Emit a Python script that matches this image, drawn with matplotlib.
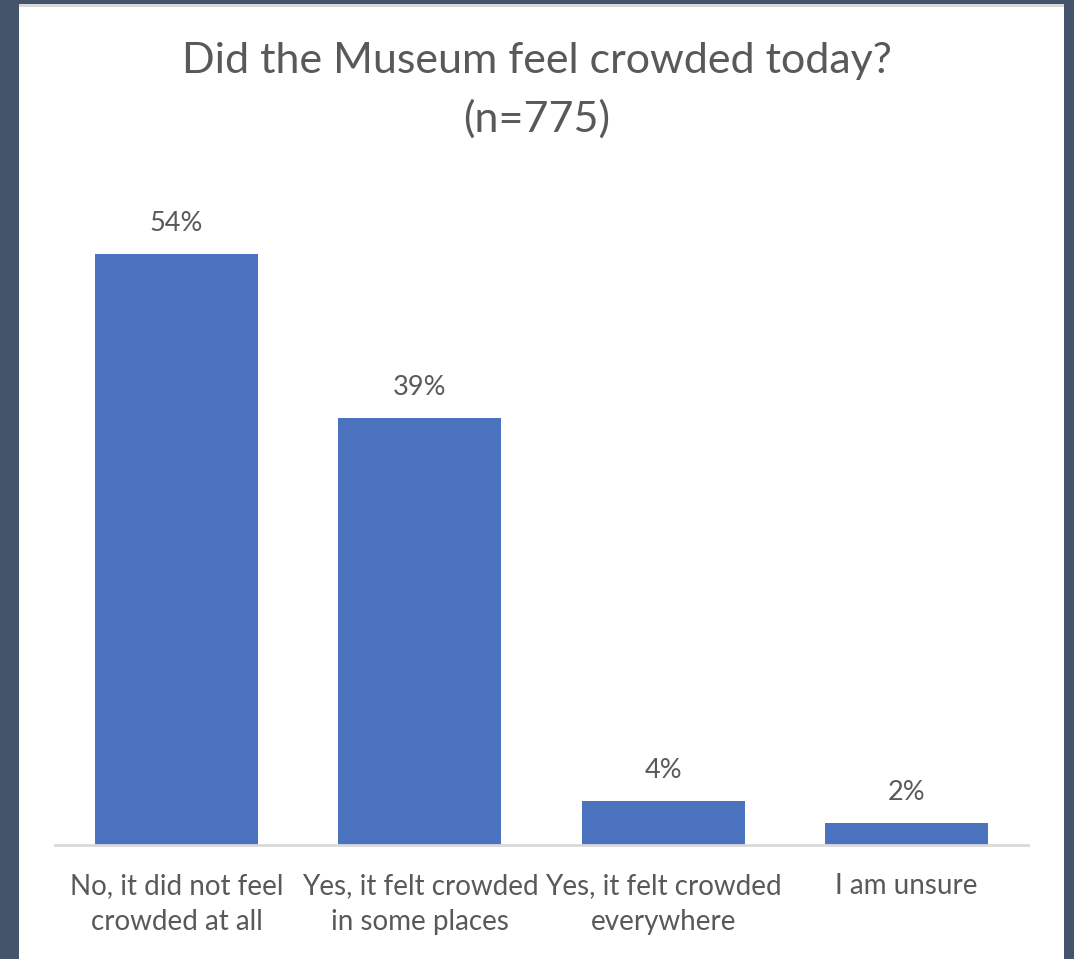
import matplotlib
matplotlib.use("Agg")
import matplotlib.pyplot as plt
from matplotlib.patches import Rectangle

categories = [
    "No, it did not feel\ncrowded at all",
    "Yes, it felt crowded\nin some places",
    "Yes, it felt crowded\neverywhere",
    "I am unsure",
]
shares = [54, 39, 4, 2]
title = "Did the Museum feel crowded today?\n(n=775)"

BAR_COLOR = "#4A72BE"
TEXT_COLOR = "#595959"
FRAME_COLOR = "#44546A"

plt.rcParams["font.family"] = ["Lato", "DejaVu Sans"]

fig = plt.figure(figsize=(10.74, 9.59), dpi=100, facecolor=FRAME_COLOR)
W, H = 1074, 959

# white card with a thin grey strip along its top edge
fig.patches.append(Rectangle((19 / W, 0), (1064 - 19) / W, (H - 4) / H,
                             transform=fig.transFigure, facecolor="#d9d9d9",
                             edgecolor="none", zorder=0))
fig.patches.append(Rectangle((19 / W, 0), (1064 - 19) / W, (H - 7) / H,
                             transform=fig.transFigure, facecolor="white",
                             edgecolor="none", zorder=0))

ax = fig.add_axes([55 / W, (H - 845) / H, (1028 - 55) / W, (845 - 188) / H])
ax.set_facecolor("none")
ax.set_zorder(2)

x = range(len(categories))
bars = ax.bar(x, shares, width=0.67, color=BAR_COLOR, zorder=2)
ax.bar_label(bars, labels=[f"{v}%" for v in shares], padding=13,
             fontsize=19.5, color=TEXT_COLOR)

ax.set_xlim(-0.5, len(categories) - 0.5)
ax.set_ylim(0, 60)
ax.set_xticks(list(x))
ax.set_xticklabels(categories, fontsize=20, color=TEXT_COLOR, linespacing=1.5)
ax.tick_params(axis="x", length=0, pad=20)
ax.set_yticks([])
for side in ["left", "right", "top"]:
    ax.spines[side].set_visible(False)
ax.spines["bottom"].set_color("#d9d9d9")
ax.spines["bottom"].set_linewidth(2)

fig.text(537 / W, 1 - 90 / H, title, ha="center", va="center",
         fontsize=31, color=TEXT_COLOR, linespacing=1.6, zorder=3)

fig.savefig("out.png", dpi=100, facecolor=fig.get_facecolor())
